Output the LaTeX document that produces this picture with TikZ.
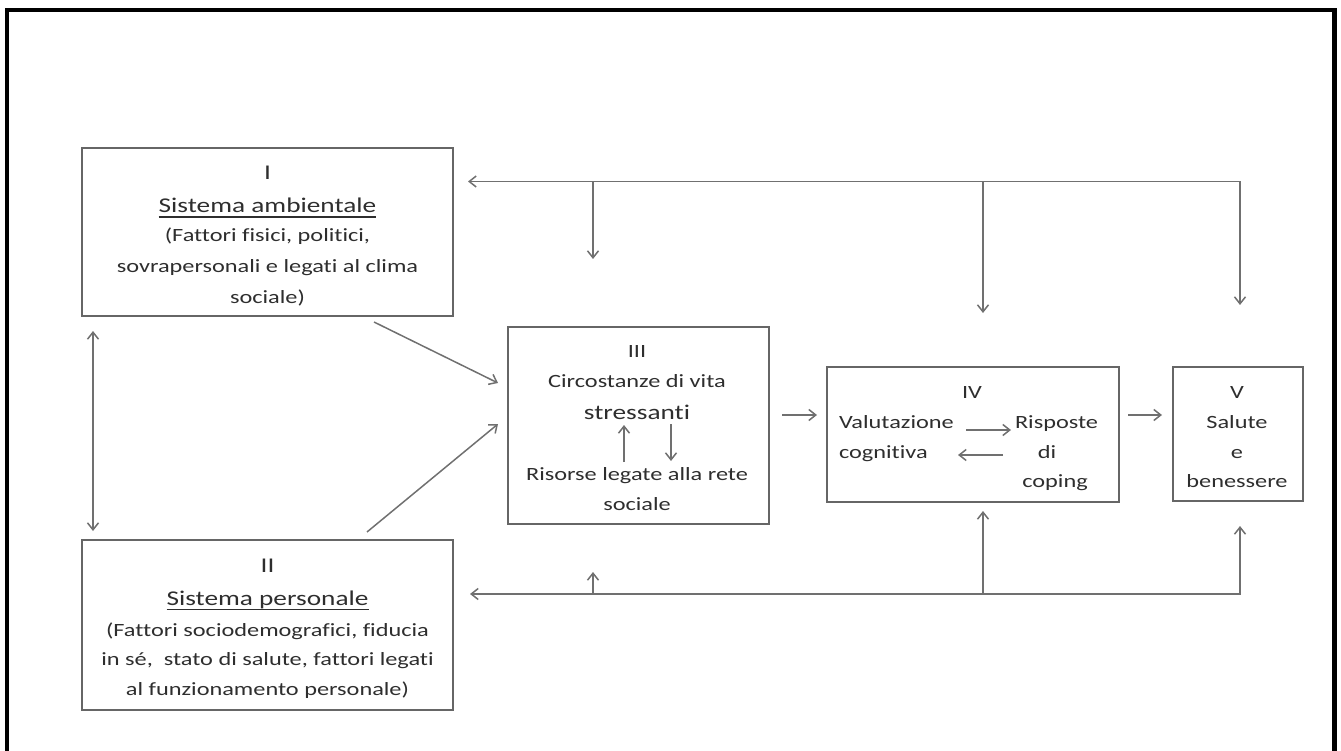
\documentclass[tikz,border=0pt]{standalone}
\usepackage{fontspec}
\setmainfont{Carlito}[FakeStretch=1.3, Ligatures=NoCommon]
\usetikzlibrary{arrows.meta}
\definecolor{ink}{HTML}{2E2E2E}
\definecolor{wire}{HTML}{707070}
\definecolor{edge}{HTML}{666666}

\begin{document}
\begin{tikzpicture}[x=1pt,y=-1pt,
  box/.style={draw=edge, line width=1.6pt, inner sep=0pt, outer sep=0pt, anchor=north west},
  lbl/.style={text=ink, inner sep=0pt, outer sep=0pt, anchor=base},
  big/.style={lbl, font=\fontsize{21}{25}\selectfont},
  small/.style={lbl, font=\fontsize{18.7}{22}\selectfont},
  tip/.tip={Straight Barb[length=7pt,width=11pt]},
  link/.style={draw=wire, line width=1.5pt, -tip},
  twoway/.style={draw=wire, line width=1.5pt, tip-tip},
  uline/.style={draw=ink, line width=1.2pt}]

\useasboundingbox (0,0) rectangle (1341,751);
\begin{scope}
  \clip (0,0) rectangle (1341,751);
  \draw[line width=4.5pt, black] (7,770) -- (7,10) -- (1334.5,10) -- (1334.5,770);
\end{scope}

% ---- boxes
\node[box, minimum width=371pt, minimum height=168pt] (boxI) at (82,148) {};
\node[box, minimum width=371pt, minimum height=170pt] (boxII) at (82,540) {};
\node[box, minimum width=261pt, minimum height=197pt] (boxIII) at (508,327) {};
\node[box, minimum width=292pt, minimum height=135pt] (boxIV) at (827,367) {};
\node[box, minimum width=130pt, minimum height=134pt] (boxV) at (1173,367) {};

% ---- box I text
\node[big] (iA) at (267.5,179.5) {I};
\node[big] (iB) at (267.5,212.5) {Sistema ambientale};
\draw[uline] ([yshift=-4.6pt]iB.base west) -- ([yshift=-4.6pt]iB.base east);
\node[small] (iC) at (267.5,242) {(Fattori fisici, politici,};
\node[small] (iD) at (267.5,273) {sovrapersonali e legati al clima};
\node[small] (iE) at (267.5,303) {sociale)};

% ---- box II text
\node[big] (iiA) at (267.5,572) {II};
\node[big] (iiB) at (267.5,605) {Sistema personale};
\draw[uline] ([yshift=-4.6pt]iiB.base west) -- ([yshift=-4.6pt]iiB.base east);
\node[small] (iiC) at (267.5,636) {(Fattori sociodemografici, fiducia};
\node[small] (iiD) at (267.5,665.5) {in sé,\ \ stato di salute, fattori legati};
\node[small] (iiE) at (267.5,695.5) {al funzionamento personale)};

% ---- box III text
\node[small] (iiiA) at (637,357.5) {III};
\node[small] (iiiB) at (637,387.5) {Circostanze di vita};
\node[big] (iiiC) at (637,419) {stressanti};
\node[small] (iiiD) at (637,480) {Risorse legate alla rete};
\node[small] (iiiE) at (637,510.5) {sociale};
\coordinate (iiiUp0) at (624,462);
\coordinate (iiiUp1) at (624,425);
\coordinate (iiiDn0) at (671,424);
\coordinate (iiiDn1) at (671,461);
\draw[link] (iiiUp0) -- (iiiUp1);
\draw[link] (iiiDn0) -- (iiiDn1);

% ---- box IV text
\node[small] (ivA) at (972,398.5) {IV};
\node[small, anchor=base west] (ivB) at (839,428.5) {Valutazione};
\node[small, anchor=base west] (ivC) at (839,458) {cognitiva};
\node[small, anchor=base west] (ivD) at (1015,428.5) {Risposte};
\node[small] (ivE) at (1047,458) {di};
\node[small] (ivF) at (1055,487) {coping};
\coordinate (ivR0) at (966,430);
\coordinate (ivR1) at (1011,430);
\coordinate (ivL0) at (1003,455);
\coordinate (ivL1) at (958,455);
\draw[link] (ivR0) -- (ivR1);
\draw[link] (ivL0) -- (ivL1);

% ---- box V text
\node[small] (vA) at (1237,398.5) {V};
\node[small] (vB) at (1237,428.5) {Salute};
\node[small] (vC) at (1237,458) {e};
\node[small] (vD) at (1237,487) {benessere};

% ---- connectors between the stages
\coordinate (iOut) at (374,322);
\coordinate (iiiInA) at (498,383);
\coordinate (iiOut) at (367,532);
\coordinate (iiiInB) at (498,424);
\draw[link] (iOut) -- (iiiInA);
\draw[link] (iiOut) -- (iiiInB);

\coordinate (iDown) at (93,331);
\coordinate (iiUp) at (93,531);
\draw[twoway] (iDown) -- (iiUp);

\coordinate (iiiOut) at (782,415);
\coordinate (ivIn) at (817,415);
\coordinate (ivOut) at (1128,415);
\coordinate (vIn) at (1162,415);
\draw[link] (iiiOut) -- (ivIn);
\draw[link] (ivOut) -- (vIn);

% ---- upper feedback bus
\coordinate (topL) at (468,181.5);
\coordinate (topA) at (593,181.5);
\coordinate (topB) at (983,181.5);
\coordinate (topR) at (1240,181.5);
\coordinate (topAEnd) at (593,259);
\coordinate (topBEnd) at (983,313);
\coordinate (topREnd) at (1240,305);
\draw[twoway] (topL) -- (topR) -- (topREnd);
\draw[link] (topA) -- (topAEnd);
\draw[link] (topB) -- (topBEnd);

% ---- lower feedback bus
\coordinate (botL) at (470,594);
\coordinate (botA) at (593,594);
\coordinate (botB) at (983,594);
\coordinate (botR) at (1240,594);
\coordinate (botAEnd) at (593,572);
\coordinate (botBEnd) at (983,511);
\coordinate (botREnd) at (1240,526);
\draw[twoway] (botL) -- (botR) -- (botREnd);
\draw[link] (botA) -- (botAEnd);
\draw[link] (botB) -- (botBEnd);

\end{tikzpicture}
\end{document}
